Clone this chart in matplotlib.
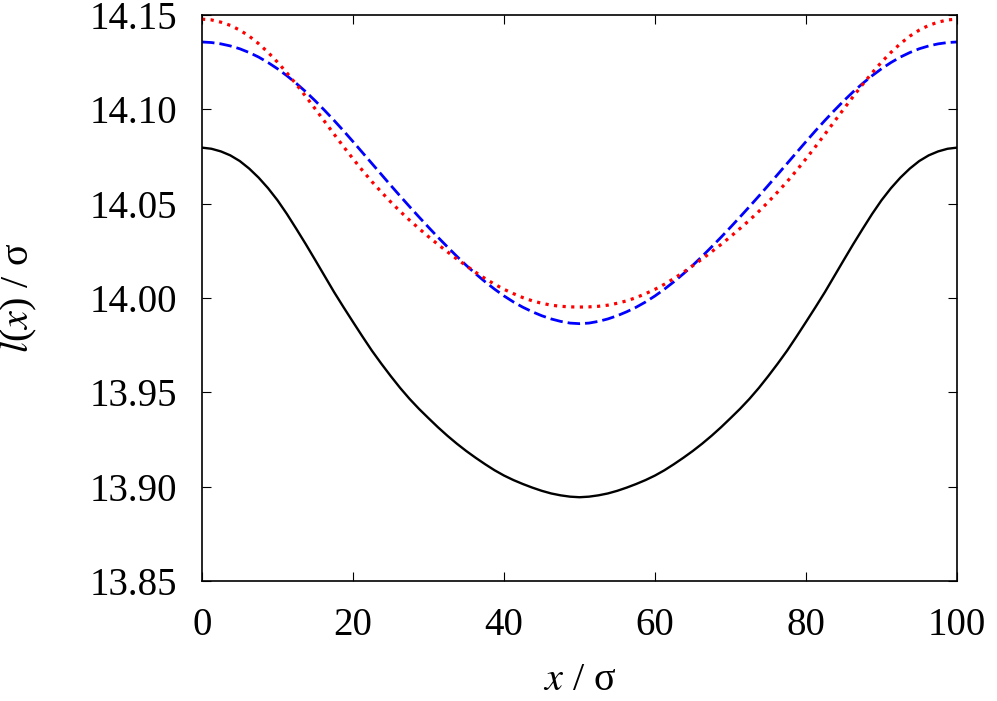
import matplotlib

matplotlib.use("Agg")
import matplotlib.pyplot as plt

# values (curves are symmetric about x = 50)
x = [0, 1.25, 2.5, 3.75, 5, 6.25, 7.5, 8.75, 10, 11.25, 12.5, 13.75, 15, 16.25,
     17.5, 18.75, 20, 21.25, 22.5, 23.75, 25, 26.25, 27.5, 28.75, 30, 31.25,
     32.5, 33.75, 35, 36.25, 37.5, 38.75, 40, 41.25, 42.5, 43.75, 45, 46.25,
     47.5, 48.75, 50, 51.25, 52.5, 53.75, 55, 56.25, 57.5, 58.75, 60, 61.25,
     62.5, 63.75, 65, 66.25, 67.5, 68.75, 70, 71.25, 72.5, 73.75, 75, 76.25,
     77.5, 78.75, 80, 81.25, 82.5, 83.75, 85, 86.25, 87.5, 88.75, 90, 91.25,
     92.5, 93.75, 95, 96.25, 97.5, 98.75, 100]

l_black = [14.0797, 14.0791, 14.0777, 14.0756, 14.0726, 14.0686, 14.0638, 14.0582,
           14.0518, 14.0445, 14.0366, 14.0285, 14.0201, 14.0116, 14.0031, 13.9951,
           13.9873, 13.9796, 13.9721, 13.9652, 13.9586, 13.9523, 13.9465, 13.9412,
           13.9363, 13.9315, 13.9270, 13.9228, 13.9189, 13.9153, 13.9119, 13.9087,
           13.9059, 13.9035, 13.9014, 13.8995, 13.8978, 13.8964, 13.8954, 13.8947,
           13.8944,
           13.8947, 13.8954, 13.8964, 13.8978, 13.8995, 13.9014, 13.9035, 13.9059,
           13.9087, 13.9119, 13.9153, 13.9189, 13.9228, 13.9270, 13.9315, 13.9363,
           13.9412, 13.9465, 13.9523, 13.9586, 13.9652, 13.9721, 13.9796, 13.9873,
           13.9951, 14.0031, 14.0116, 14.0201, 14.0285, 14.0366, 14.0445, 14.0518,
           14.0582, 14.0638, 14.0686, 14.0726, 14.0756, 14.0777, 14.0791, 14.0797]

l_blue = [14.1357, 14.1354, 14.1347, 14.1336, 14.1321, 14.1301, 14.1277, 14.1248,
          14.1215, 14.1178, 14.1137, 14.1093, 14.1045, 14.0994, 14.0941, 14.0886,
          14.0829, 14.0771, 14.0713, 14.0655, 14.0597, 14.0540, 14.0484, 14.0429,
          14.0375, 14.0322, 14.0271, 14.0221, 14.0173, 14.0128, 14.0086, 14.0047,
          14.0011, 13.9979, 13.9951, 13.9927, 13.9906, 13.9889, 13.9876, 13.9867,
          13.9864,
          13.9867, 13.9876, 13.9889, 13.9906, 13.9927, 13.9951, 13.9979, 14.0011,
          14.0047, 14.0086, 14.0128, 14.0173, 14.0221, 14.0271, 14.0322, 14.0375,
          14.0429, 14.0484, 14.0540, 14.0597, 14.0655, 14.0713, 14.0771, 14.0829,
          14.0886, 14.0941, 14.0994, 14.1045, 14.1093, 14.1137, 14.1178, 14.1215,
          14.1248, 14.1277, 14.1301, 14.1321, 14.1336, 14.1347, 14.1354, 14.1357]

l_red = [14.1478, 14.1474, 14.1462, 14.1445, 14.1420, 14.1388, 14.1348, 14.1302,
         14.1250, 14.1193, 14.1132, 14.1068, 14.1002, 14.0935, 14.0868, 14.0802,
         14.0738, 14.0676, 14.0617, 14.0562, 14.0509, 14.0459, 14.0412, 14.0368,
         14.0325, 14.0284, 14.0245, 14.0207, 14.0171, 14.0136, 14.0103, 14.0073,
         14.0046, 14.0023, 14.0002, 13.9985, 13.9972, 13.9962, 13.9956, 13.9953,
         13.9952,
         13.9953, 13.9956, 13.9962, 13.9972, 13.9985, 14.0002, 14.0023, 14.0046,
         14.0073, 14.0103, 14.0136, 14.0171, 14.0207, 14.0245, 14.0284, 14.0325,
         14.0368, 14.0412, 14.0459, 14.0509, 14.0562, 14.0617, 14.0676, 14.0738,
         14.0802, 14.0868, 14.0935, 14.1002, 14.1068, 14.1132, 14.1193, 14.1250,
         14.1302, 14.1348, 14.1388, 14.1420, 14.1445, 14.1462, 14.1474, 14.1478]

x_ticks = [0, 20, 40, 60, 80, 100]
y_ticks = [13.85, 13.90, 13.95, 14.00, 14.05, 14.10, 14.15]

plt.rcParams["font.family"] = ["Liberation Serif", "DejaVu Serif"]
plt.rcParams["mathtext.fontset"] = "stix"

fig = plt.figure(figsize=(9.97, 7.01), dpi=100)
fig.patch.set_facecolor("white")
ax = fig.add_axes([202 / 997, (701 - 581) / 701, (957 - 202) / 997, (581 - 15) / 701])

ax.plot(x, l_black, color="black", lw=1.7)
ax.plot(x, l_blue, color="#0000ff", lw=2.0, ls=(0, (4.5, 1.8)), dash_capstyle="butt")
ax.plot(x, l_red, color="#ff0000", lw=2.3, ls=(0, (1, 1.7)), dash_capstyle="butt")

ax.set_xlim(0, 100)
ax.set_ylim(13.85, 14.15)
ax.set_xticks(x_ticks)
ax.set_yticks(y_ticks)
ax.set_yticklabels([f"{v:.2f}" for v in y_ticks])
ax.tick_params(direction="in", top=True, right=True, length=6.5, width=0.8,
               labelsize=28, pad=19)
ax.tick_params(axis="y", pad=18)
for sp in ax.spines.values():
    sp.set_linewidth(1.2)

ax.set_xlabel(r"$x$ / σ", fontsize=29, labelpad=13)
ax.set_ylabel(r"$l$($x$) / σ", fontsize=29, labelpad=36)

fig.savefig("out.png", dpi=100, facecolor="white")
